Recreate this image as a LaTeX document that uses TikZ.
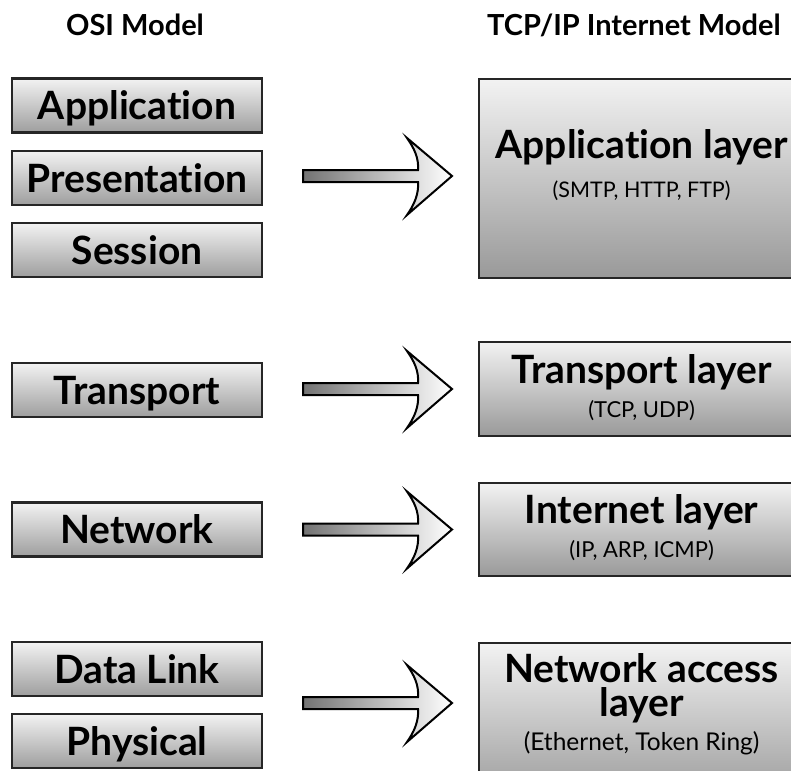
\documentclass[tikz,border=0pt]{standalone}
\usepackage{fontspec}
\setmainfont{Lato}[Ligatures={TeX,NoCommon}]
\usetikzlibrary{calc}

% hollow block arrow whose tip sits on the given coordinate
\newcommand\layerarrow[1]{%
  \begin{scope}[shift={(#1)}]
    \draw[blockarrow] (-149,-6) -- (-34,-6)
      .. controls (-33,-18) and (-38,-28) .. (-45,-38) -- (0,0)
      -- (-45,39) .. controls (-38,29) and (-33,18) .. (-34,6)
      -- (-149,6) -- cycle;
  \end{scope}}

\begin{document}
\begin{tikzpicture}[x=1pt,y=-1pt,
  osibox/.style={draw=black!85, line width=2.2pt,
    top color=white!95!black, bottom color=black!38,
    minimum width=250pt, minimum height=54pt, inner sep=0pt,
    font=\fontsize{39}{39}\selectfont\bfseries,
    text height=28pt, text depth=0pt},
  tcpbox/.style={draw=black!85, line width=2.2pt,
    top color=white!95!black, bottom color=black!40,
    minimum width=325pt, anchor=north west, inner sep=0pt},
  title/.style={font=\fontsize{39}{39}\selectfont\bfseries, anchor=base, inner sep=0pt},
  subtitle/.style={font=\fontsize{22}{22}\selectfont, anchor=base, inner sep=0pt, text=black},
  header/.style={font=\fontsize{29}{29}\selectfont\bfseries, inner sep=0pt},
  blockarrow/.style={draw=black, line width=2pt, line join=miter,
    left color=black!55, right color=white}
]
\useasboundingbox (0,0) rectangle (791,770);
\clip (0,0) rectangle (791,770);
\fill[white] (0,0) rectangle (791,770);

% column headers
\node[header, anchor=base] (osihead) at (135,36) {OSI Model};
\node[header, anchor=base west] (tcphead) at (487,36) {TCP/IP Internet Model};

% OSI layers
\node[osibox] (app)  at (137,105.5) {Application};
\node[osibox] (pres) at (137,178)   {Presentation};
\node[osibox] (sess) at (137,250)   {Session};
\node[osibox] (trans) at (137,390)  {Transport};
\node[osibox] (net)  at (137,529.5) {Network};
\node[osibox] (dlink) at (137,669)  {Data Link};
\node[osibox] (phys) at (137,741)   {Physical};

% TCP/IP layers
\node[tcpbox, minimum height=199pt] (applayer) at (478,78) {};
\node[tcpbox, minimum height=94pt]  (translayer) at (478,341) {};
\node[tcpbox, minimum height=93pt]  (inetlayer) at (478,482) {};
\node[tcpbox, minimum height=160pt] (nacclayer) at (478,642) {};

\node[title] (applt) at ($(applayer.north)+(0,80)$) {Application layer};
\node[subtitle, font=\fontsize{21.5}{21.5}\selectfont] (apps) at ($(applayer.north)+(0,119)$) {(SMTP, HTTP, FTP)};
\node[title] (translt) at ($(translayer.north)+(0,42)$) {Transport layer};
\node[subtitle] (transs) at ($(translayer.north)+(0,76)$) {(TCP, UDP)};
\node[title] (inetlt) at ($(inetlayer.north)+(0,41)$) {Internet layer};
\node[subtitle] (inets) at ($(inetlayer.north)+(0,75)$) {(IP, ARP, ICMP)};
\node[title, anchor=north, align=center, font=\fontsize{39}{34}\selectfont\bfseries]
  (nacclt) at ($(nacclayer.north)+(0,11)$) {Network access\\layer};
\node[subtitle, font=\fontsize{24.5}{24.5}\selectfont] (naccs) at ($(nacclayer.north)+(0,108)$) {(Ethernet, Token Ring)};

% mapping arrows
\coordinate (t1) at ($(applayer.west |- pres.east)+(-26,-2)$);
\coordinate (t2) at ($(translayer.west |- trans.east)+(-26,-1)$);
\coordinate (t3) at ($(inetlayer.west |- net.east)+(-26,0)$);
\coordinate (t4) at ($(nacclayer.west |- dlink.south)!.5!(nacclayer.west |- phys.north)+(-26,-2)$);
\layerarrow{t1}
\layerarrow{t2}
\layerarrow{t3}
\layerarrow{t4}
\end{tikzpicture}
\end{document}
